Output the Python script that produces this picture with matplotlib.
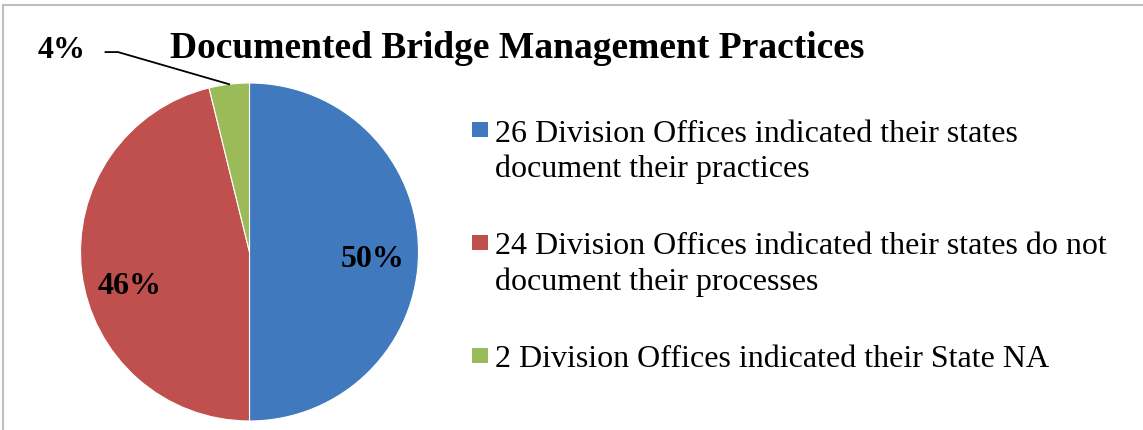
import numpy as np
import matplotlib
matplotlib.use("Agg")
import matplotlib.pyplot as plt
from matplotlib.patches import Rectangle

# ---- data ----
counts = [26, 24, 2]
labels = [
    "26 Division Offices indicated their states\ndocument their practices",
    "24 Division Offices indicated their states do not\ndocument their processes",
    "2 Division Offices indicated their State NA",
]
colors = ["#4079BE", "#C0504D", "#9BBB59"]
title = "Documented Bridge Management Practices"

W, H = 1143, 431
fig = plt.figure(figsize=(W / 100, H / 100), dpi=100)
serif = ["Liberation Serif", "DejaVu Serif"]

def fx(px):
    return px / W

def fy(py):
    return 1 - py / H

# border
fig.patches.append(Rectangle((fx(3), -0.1), 1.2, fy(6) + 0.1, transform=fig.transFigure,
                             fill=False, edgecolor="#BFBFBF", linewidth=1.5))

# pie axes: center (249.5, 253), radius 169 px
cx, cy, r = 249.5, 253, 169
ax = fig.add_axes([fx(cx - r), fy(cy + r), (2 * r) / W, (2 * r) / H])
wedges, _ = ax.pie(counts, colors=colors, startangle=90, counterclock=False,
                   radius=1, wedgeprops=dict(edgecolor="white", linewidth=0.8))
ax.set_xlim(-1, 1)
ax.set_ylim(-1, 1)
ax.set_aspect("equal")
ax.axis("off")

total = sum(counts)
pcts = [f"{round(100 * c / total)}%" for c in counts]

# percentage labels
ax.text(0.728, -0.085, pcts[0], ha="center", va="baseline", fontsize=23,
        fontweight="bold", family=serif)
ax.text(-0.707, -0.243, pcts[1], ha="center", va="baseline", fontsize=23,
        fontweight="bold", family=serif)

# outside label with leader line for the small slice
w = wedges[2]
mid = np.deg2rad((w.theta1 + w.theta2) / 2)
ex, ey = np.cos(mid), np.sin(mid)
ax.plot([-0.852, -0.778, ex], [1.183, 1.183, ey], color="black", lw=1.3,
        clip_on=False)
ax.text(-1.109, 1.152, pcts[2], ha="center", va="baseline", fontsize=23,
        fontweight="bold", family=serif, clip_on=False)

# title
fig.text(fx(517), fy(58), title, ha="center", va="baseline", fontsize=27,
         fontweight="bold", family=serif)

# legend (manual)
base_y = [141.5, 254.5, 367.5]
line_gap = 36
for lab, col, by in zip(labels, colors, base_y):
    fig.patches.append(Rectangle((fx(472), fy(by - 3.5)), 15.5 / W, 15.5 / H,
                                 transform=fig.transFigure, facecolor=col,
                                 edgecolor="none"))
    for i, line in enumerate(lab.split("\n")):
        fig.text(fx(495), fy(by + i * line_gap), line, ha="left",
                 va="baseline", fontsize=23, family=serif)

fig.savefig("out.png", dpi=100)
